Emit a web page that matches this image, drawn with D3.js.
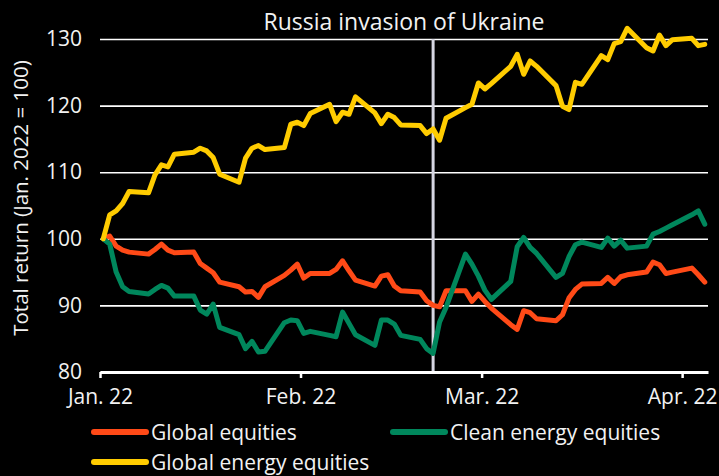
<!DOCTYPE html>
<html>
<head>
<meta charset="utf-8">
<script src="https://cdn.jsdelivr.net/npm/d3@7"></script>
<style>
  html, body { margin: 0; padding: 0; background: #000; }
  svg { display: block; }
  text { font-family: "Open Sans", "Noto Sans", sans-serif; fill: #f2f2f2; }
</style>
</head>
<body>
<svg id="chart" width="719" height="476"></svg>
<script>
// ---- Data ----
const dates = [
  "2022-01-03","2022-01-04","2022-01-05","2022-01-06","2022-01-07",
  "2022-01-10","2022-01-11","2022-01-12","2022-01-13","2022-01-14",
  "2022-01-17","2022-01-18","2022-01-19","2022-01-20","2022-01-21",
  "2022-01-24","2022-01-25","2022-01-26","2022-01-27","2022-01-28",
  "2022-01-31","2022-02-01","2022-02-02","2022-02-03","2022-02-04",
  "2022-02-07","2022-02-08","2022-02-09","2022-02-10","2022-02-11",
  "2022-02-14","2022-02-15","2022-02-16","2022-02-17","2022-02-18",
  "2022-02-21","2022-02-22","2022-02-23","2022-02-24","2022-02-25",
  "2022-02-28","2022-03-01","2022-03-02","2022-03-03","2022-03-04",
  "2022-03-07","2022-03-08","2022-03-09","2022-03-10","2022-03-11",
  "2022-03-14","2022-03-15","2022-03-16","2022-03-17","2022-03-18",
  "2022-03-21","2022-03-22","2022-03-23","2022-03-24","2022-03-25",
  "2022-03-28","2022-03-29","2022-03-30","2022-03-31","2022-04-01",
  "2022-04-04","2022-04-05","2022-04-06"
];

const globalEquities = [
  100.0,100.4,98.9,98.3,98.0, 97.7,98.4,99.2,98.3,97.9, 98.0,96.3,95.6,94.9,93.5,
  92.8,92.0,92.1,91.2,92.8, 94.5,95.3,96.2,94.1,94.8, 94.8,95.4,96.7,95.2,93.8,
  92.9,94.4,94.6,92.9,92.2, 92.0,90.7,90.0,89.8,92.2, 92.2,90.6,91.7,90.6,89.6,
  87.1,86.4,89.2,88.9,88.0, 87.7,88.6,91.1,92.4,93.2, 93.3,94.2,93.3,94.3,94.6,
  95.0,96.5,96.1,94.8,95.0, 95.6,94.6,93.5
];

const cleanEnergyEquities = [
  100.0,99.2,95.0,92.8,92.1, 91.7,92.4,93.0,92.6,91.4, 91.4,89.3,88.7,90.2,86.7,
  85.6,83.5,84.6,83.0,83.1, 87.4,87.8,87.7,85.8,86.1, 85.5,85.3,89.0,87.3,85.6,
  84.0,87.8,87.8,87.2,85.5, 84.9,83.5,82.8,87.5,89.7, 97.7,96.2,94.4,92.3,90.9,
  93.6,98.8,100.2,98.7,97.8, 94.2,94.8,97.3,99.1,99.5, 98.7,100.1,98.9,99.8,98.6,
  98.9,100.7,101.1,101.6,102.1, 103.6,104.2,102.2
];

const globalEnergyEquities = [
  100.0,103.6,104.2,105.3,107.1, 106.9,109.6,111.1,110.8,112.7, 113.0,113.6,113.2,112.2,109.7,
  108.5,112.1,113.6,114.0,113.4, 113.7,117.2,117.5,117.0,118.8, 120.2,117.6,119.0,118.7,121.3,
  118.9,117.3,118.7,118.2,117.1, 117.0,115.8,116.5,114.8,118.1, 119.7,120.2,123.4,122.5,123.3,
  125.9,127.7,124.7,126.7,125.9, 123.0,119.9,119.4,123.5,123.2, 127.5,126.9,129.3,129.6,131.6,
  128.7,128.2,130.6,129.0,129.9, 130.1,129.0,129.2
];

const seriesNames = ["Global equities", "Clean energy equities", "Global energy equities"];
const seriesColors = ["#ff4a17", "#00875c", "#ffcc00"];

const yTicks = [80, 90, 100, 110, 120, 130];
const xTickDates = ["2022-01-03", "2022-02-03", "2022-03-03", "2022-04-03"];
const xTickLabels = ["Jan. 22", "Feb. 22", "Mar. 22", "Apr. 22"];
const xDomain = ["2022-01-03", "2022-04-07"];
const eventDate = "2022-02-23";
const eventLabel = "Russia invasion of Ukraine";
const yTitle = "Total return (Jan. 2022 = 100)";

// ---- Drawing ----
const parse = d3.timeParse("%Y-%m-%d");
const mid = d => d3.timeHour.offset(parse(d), 12);

const svg = d3.select("#chart");
const plotLeft = 100, plotRight = 708, plotTop = 39, plotBottom = 372;
const FONT = '"Open Sans", "Noto Sans", sans-serif';

const x = d3.scaleTime().domain(xDomain.map(parse)).range([plotLeft, plotRight]);
const y = d3.scaleLinear().domain([80, 130]).range([plotBottom, plotTop]);

// gridlines + y labels
const yAxis = d3.axisLeft(y).tickValues(yTicks).tickSize(-(plotRight - plotLeft)).tickPadding(18).tickFormat(d3.format("d"));
const gy = svg.append("g").attr("transform", `translate(${plotLeft},0)`).call(yAxis);
gy.select(".domain").remove();
gy.selectAll(".tick line").attr("stroke", "#ffffff").attr("stroke-width", 1.6);
gy.selectAll(".tick text").attr("font-size", 21).attr("fill", "#f2f2f2").attr("font-family", FONT);

// event line
svg.append("line")
  .attr("x1", x(mid(eventDate))).attr("x2", x(mid(eventDate)))
  .attr("y1", y(130)).attr("y2", y(80))
  .attr("stroke", "#d6d6e2").attr("stroke-width", 3);

svg.append("text")
  .attr("x", 404).attr("y", 30)
  .attr("text-anchor", "middle")
  .attr("font-size", 23)
  .text(eventLabel);

// x axis
const xAxis = d3.axisBottom(x)
  .tickValues(xTickDates.map(parse))
  .tickFormat((d, i) => xTickLabels[i])
  .tickSizeOuter(0).tickSizeInner(6).tickPadding(11);
const gx = svg.append("g").attr("transform", `translate(0,${plotBottom})`).call(xAxis);
gx.select(".domain").attr("stroke", "#ffffff").attr("stroke-width", 3);
gx.selectAll(".tick line").attr("stroke", "#ffffff").attr("stroke-width", 2.5);
gx.selectAll(".tick text").attr("font-size", 21).attr("fill", "#f2f2f2").attr("font-family", FONT);

// y title
svg.append("text")
  .attr("transform", "translate(28,198) rotate(-90)")
  .attr("text-anchor", "middle")
  .attr("font-size", 20.5)
  .text(yTitle);

// lines
const allSeries = [globalEquities, cleanEnergyEquities, globalEnergyEquities];
const line = d3.line()
  .x((d, i) => x(mid(dates[i])))
  .y(d => y(d));

allSeries.forEach((vals, k) => {
  svg.append("path")
    .datum(vals)
    .attr("fill", "none")
    .attr("stroke", seriesColors[k])
    .attr("stroke-width", 5)
    .attr("stroke-linejoin", "round")
    .attr("stroke-linecap", "round")
    .attr("d", line);
});

// legend
const legendPos = [[92, 432], [391, 432], [92, 462]];
seriesNames.forEach((name, k) => {
  const [lx, ly] = legendPos[k];
  svg.append("line")
    .attr("x1", lx + 2).attr("x2", lx + 54)
    .attr("y1", ly).attr("y2", ly)
    .attr("stroke", seriesColors[k]).attr("stroke-width", 6)
    .attr("stroke-linecap", "round");
  svg.append("text")
    .attr("x", lx + 59).attr("y", ly + 7.5)
    .attr("font-size", 21)
    .text(name);
});
</script>
</body>
</html>
